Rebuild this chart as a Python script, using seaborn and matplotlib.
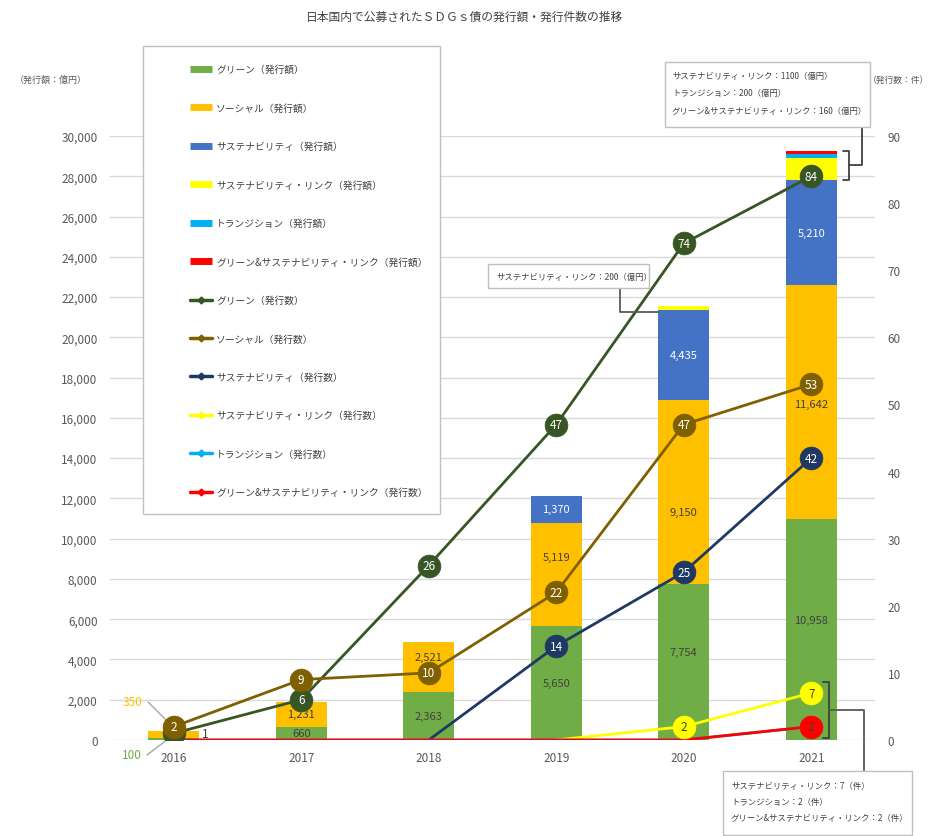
import numpy as np
import matplotlib
matplotlib.use("Agg")
import matplotlib.pyplot as plt
import seaborn as sns
from matplotlib.lines import Line2D
from matplotlib.patches import Rectangle

# ---------------- data ----------------
years = ["2016", "2017", "2018", "2019", "2020", "2021"]

green_amt = [100, 660, 2363, 5650, 7754, 10958]
social_amt = [350, 1231, 2521, 5119, 9150, 11642]
sust_amt = [0, 0, 0, 1370, 4435, 5210]
sl_amt = [0, 0, 0, 0, 200, 1100]
trans_amt = [0, 0, 0, 0, 0, 200]
gsl_amt = [0, 0, 0, 0, 0, 160]

green_cnt = [1, 6, 26, 47, 74, 84]
social_cnt = [2, 9, 10, 22, 47, 53]
sust_cnt = [np.nan, np.nan, 0, 14, 25, 42]
sl_cnt = [np.nan, np.nan, np.nan, 0, 2, 7]
trans_cnt = [0, 0, 0, 0, 0, 2]
gsl_cnt = [0, 0, 0, 0, 0, 2]

amt_names = ["グリーン（発行額）", "ソーシャル（発行額）", "サステナビリティ（発行額）",
             "サステナビリティ・リンク（発行額）", "トランジション（発行額）",
             "グリーン&サステナビリティ・リンク（発行額）"]
cnt_names = ["グリーン（発行数）", "ソーシャル（発行数）", "サステナビリティ（発行数）",
             "サステナビリティ・リンク（発行数）", "トランジション（発行数）",
             "グリーン&サステナビリティ・リンク（発行数）"]
amt_colors = ["#70AD47", "#FFC000", "#4472C4", "#FFFF00", "#00B0F0", "#FF0000"]
cnt_colors = ["#375623", "#7F6000", "#1F3864", "#FFFF00", "#00B0F0", "#FF0000"]

title = "日本国内で公募されたＳＤＧｓ債の発行額・発行件数の推移"
left_unit = "（発行額：億円）"
right_unit = "（発行数：件）"
box1_lines = ["サステナビリティ・リンク：1100（億円）", "トランジション：200（億円）",
              "グリーン&サステナビリティ・リンク：160（億円）"]
box2_lines = ["サステナビリティ・リンク：200（億円）"]
box3_lines = ["サステナビリティ・リンク：7（件）", "トランジション：2（件）",
              "グリーン&サステナビリティ・リンク：2（件）"]

# ---------------- style ----------------
sns.set_theme(style="white")
plt.rcParams["font.family"] = ["Noto Sans CJK JP", "DejaVu Sans"]

W, H = 930, 837
fig = plt.figure(figsize=(W / 100, H / 100), dpi=100)
fig.patch.set_facecolor("white")


def fx(x):
    return x / W


def fy(y):
    return 1 - y / H


ax = fig.add_axes([fx(110), fy(741), (875 - 110) / W, (741 - 137) / H])
ax2 = ax.twinx()
ax.set_zorder(1)
ax2.set_zorder(2)
ax.patch.set_visible(False)
ax2.patch.set_visible(False)

# ---------------- stacked bars (overlay of cumulative totals) ----------------
amts = [green_amt, social_amt, sust_amt, sl_amt, trans_amt, gsl_amt]
cums = np.cumsum(np.array(amts, dtype=float), axis=0)
for i in range(len(amts) - 1, -1, -1):
    sns.barplot(x=years, y=cums[i], order=years, color=amt_colors[i], saturation=1,
                width=0.4, errorbar=None, ax=ax, linewidth=0)

ax.set_xlim(-0.5, len(years) - 0.5)
ax.set_ylim(0, 30000)
ax.set_yticks(np.arange(0, 30001, 2000))
ax.set_yticklabels([f"{v:,}" for v in range(0, 30001, 2000)])
ax.yaxis.grid(True, color="#D9D9D9", linewidth=1)
ax.set_axisbelow(True)
ax.tick_params(axis="both", length=0, colors="#595959", labelsize=8.5)
ax.tick_params(axis="y", pad=9)
ax.tick_params(axis="x", pad=8)
for s in ax.spines.values():
    s.set_visible(False)
ax.set_xlabel("")
ax.set_ylabel("")

# bar value labels (pixel nudges mimic the manually moved labels of the original)
nudges = [[0, 0, 0, 0, 10, 10],
          [0, 0, 10, 18, -20, -2],
          [0, 0, 0, 0, 0, 0]]
bot = np.zeros(len(years))
label_cols = ["#404040", "#404040", "white"]
for k in range(3):
    vals = np.array(amts[k], dtype=float)
    for i, v in enumerate(vals):
        if v > 0 and i > 0:
            ax.annotate(f"{int(v):,}", (i, bot[i] + v / 2), xytext=(0, nudges[k][i] * 0.72),
                        textcoords="offset points", ha="center", va="center",
                        fontsize=8, color=label_cols[k], zorder=5)
    bot += vals

# ---------------- lines (counts) ----------------
cnts = [green_cnt, social_cnt, sust_cnt, sl_cnt, trans_cnt, gsl_cnt]
pos = np.arange(len(years))
for k, c in enumerate(cnts):
    sns.lineplot(x=pos, y=c, color=cnt_colors[k], linewidth=2, ax=ax2, legend=False,
                 zorder=3)
txt_cols = ["white", "white", "white", "#404040", "#404040", "#404040"]
for k, c in enumerate(cnts):
    if k == 4:
        continue
    arr = np.array(c, dtype=float)
    m = np.nan_to_num(arr) > 0
    sns.scatterplot(x=pos[m], y=arr[m], s=270, color=cnt_colors[k], edgecolor=cnt_colors[k],
                    linewidth=0.5, ax=ax2, legend=False, zorder=4)
    for i in np.where(m)[0]:
        if k == 0 and i == 0:
            continue
        ax2.text(pos[i], arr[i], f"{int(arr[i])}", ha="center", va="center",
                 fontsize=8.5, color=txt_cols[k], zorder=6)

ax2.set_ylim(0, 90)
ax2.set_yticks(np.arange(0, 91, 10))
ax2.tick_params(axis="y", length=0, colors="#595959", labelsize=8.5, pad=9)
ax2.grid(False)
for s in ax2.spines.values():
    s.set_visible(False)
ax2.set_ylabel("")

# label for green count 2016 (placed right of point)
gx, gy = ax2.transData.transform((pos[0], green_cnt[0]))
fig.text(gx / W + fx(28), gy / H, f"{green_cnt[0]}", ha="left", va="center",
         fontsize=8.5, color="#404040")

# 2016 amount call-outs
fig.text(fx(133), fy(703), f"{social_amt[0]}", ha="center", va="center",
         fontsize=8.5, color="#FFC000")
fig.text(fx(132), fy(756), f"{green_amt[0]}", ha="center", va="center",
         fontsize=8.5, color="#70AD47")
fig.add_artist(Line2D([fx(148), fx(172)], [fy(703), fy(727)], color="#A6A6A6", lw=1))
fig.add_artist(Line2D([fx(147), fx(168)], [fy(756), fy(740)], color="#A6A6A6", lw=1))

# ---------------- text ----------------
fig.text(0.5, fy(17), title, ha="center", va="center", fontsize=8.5, color="#404040")
fig.text(fx(15), fy(80), left_unit, ha="left", va="center", fontsize=6.5, color="#595959")
fig.text(fx(929), fy(80), right_unit, ha="right", va="center", fontsize=6.3, color="#595959")


def box(x0, y0, x1, y1, lines, tx, ty, dy):
    fig.add_artist(Rectangle((fx(x0), fy(y1)), (x1 - x0) / W, (y1 - y0) / H,
                             transform=fig.transFigure, facecolor="white",
                             edgecolor="#BFBFBF", lw=1, zorder=10))
    for j, t in enumerate(lines):
        fig.text(fx(tx), fy(ty + j * dy), t, ha="left", va="center", fontsize=6.0,
                 color="#404040", zorder=11)


def pline(xs, ys, color="#404040", lw=1.3):
    fig.add_artist(Line2D([fx(v) for v in xs], [fy(v) for v in ys], color=color, lw=lw,
                          zorder=9))


box(665, 63, 870, 128, box1_lines, 672, 76, 17.5)
box(488, 265, 649, 289, box2_lines, 496, 277, 0)
box(723, 772, 912, 836, box3_lines, 731, 787, 16)


def to_px(a, x, y):
    dx, dy = a.transData.transform((x, y))
    return dx, H - dy


# top bracket on 2021 bar (SL + transition + G&SL)
_, ytop = to_px(ax, 5, cums[5][5])
_, ybot = to_px(ax, 5, cums[2][5])
xr, _ = to_px(ax, 5 + 0.2, 0)
bx0, bx1 = xr + 6, xr + 12
ym = (ytop + ybot) / 2
pline([bx0, bx1, bx1, bx0], [ytop, ytop, ybot, ybot])
pline([bx1, xr + 25, xr + 25], [ym, ym, 128], color="#404040")

# 2020 SL connector
xl20, yl20 = to_px(ax, 4 - 0.2, cums[3][4] - sl_amt[4] / 2)
pline([620, 620, xl20], [289, yl20 + 4, yl20 + 4], color="#595959")

# bottom bracket (counts SL, transition, G&SL in 2021)
_, y7 = to_px(ax2, 5, sl_cnt[5])
_, y2 = to_px(ax2, 5, gsl_cnt[5])
cx, _ = to_px(ax2, 5, 0)
b0, b1 = cx + 12, cx + 18
pline([b0, b1, b1, b0], [y7 - 11, y7 - 11, y2 + 11, y2 + 11])
ym2 = (y7 + y2) / 2
pline([b1, 864, 864], [ym2, ym2, 772], color="#595959")

# ---------------- legend ----------------
handles = []
for k in range(6):
    handles.append(Line2D([0], [0], color=amt_colors[k], lw=5, solid_capstyle="butt"))
for k in range(6):
    handles.append(Line2D([0], [0], color=cnt_colors[k], lw=2.5, marker="D",
                          markersize=3.5))
labels = amt_names + cnt_names
fig.add_artist(Rectangle((fx(143), fy(515)), (440 - 143) / W, (515 - 47) / H,
                         transform=fig.transFigure, facecolor="white",
                         edgecolor="#BFBFBF", lw=1, zorder=8))
leg = fig.legend(handles, labels, loc="upper left", bbox_to_anchor=(fx(190), fy(65)),
                 bbox_transform=fig.transFigure, frameon=False, fontsize=7,
                 labelspacing=2.93, handlelength=2.3, handletextpad=0.4, borderpad=0,
                 borderaxespad=0, labelcolor="#404040")
leg.set_zorder(12)

fig.savefig("out.png", dpi=100, facecolor="white")
